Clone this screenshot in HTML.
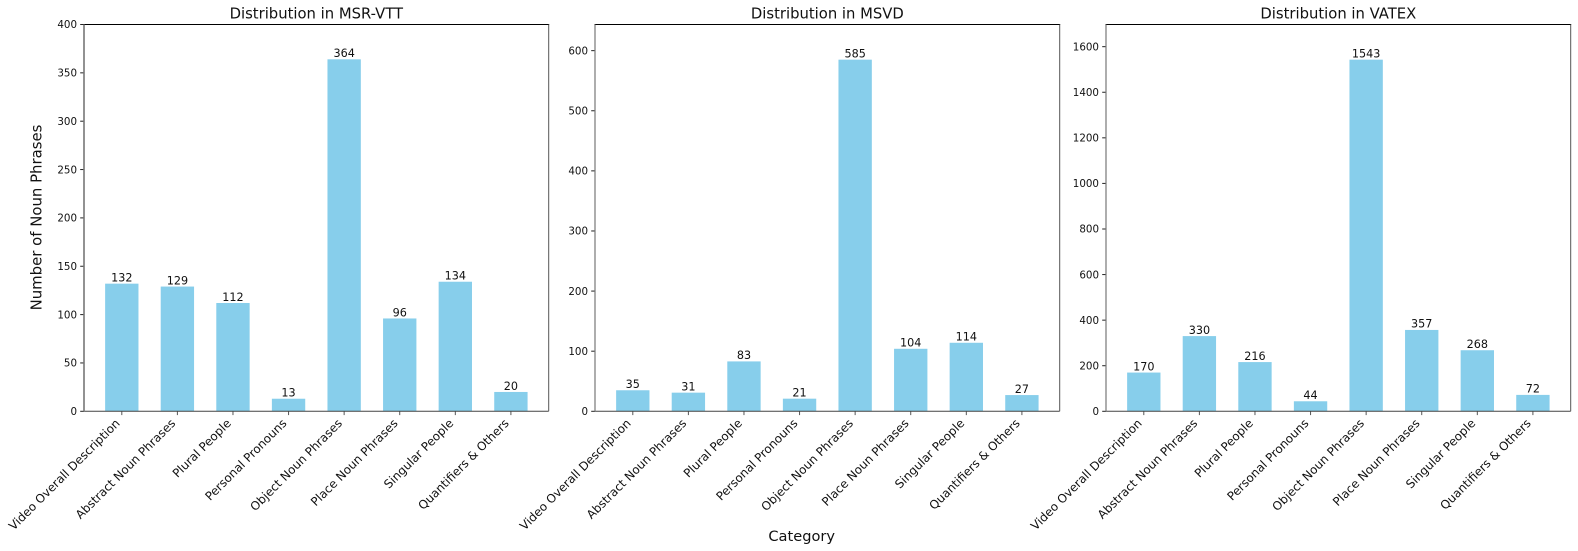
<!DOCTYPE html>
<html>
<head>
<meta charset="utf-8">
<title>Noun phrase distribution</title>
<style>
html,body{margin:0;padding:0;background:#fff;width:1578px;height:551px;overflow:hidden}
svg{display:block}
text{font-family:"DejaVu Sans","Liberation Sans",sans-serif;fill:#111}
</style>
</head>
<body>
<svg id="chart" xmlns="http://www.w3.org/2000/svg" width="1578" height="551" viewBox="0 0 1578 551">
  <text transform="translate(41.5,217.5) rotate(-90)" text-anchor="middle" font-size="14.9">Number of Noun Phrases</text>
  <text x="801.7" y="541" text-anchor="middle" font-size="14.6">Category</text>
</svg>
<script>
const categories = ["Video Overall Description","Abstract Noun Phrases","Plural People","Personal Pronouns","Object Noun Phrases","Place Noun Phrases","Singular People","Quantifiers & Others"];
const msrVttTitle = "Distribution in MSR-VTT";
const msvdTitle = "Distribution in MSVD";
const vatexTitle = "Distribution in VATEX";
const msrVttValues = [132,129,112,13,364,96,134,20];
const msvdValues = [35,31,83,21,585,104,114,27];
const vatexValues = [170,330,216,44,1543,357,268,72];
const msrVttTicks = [0,50,100,150,200,250,300,350,400];
const msvdTicks = [0,100,200,300,400,500,600];
const vatexTicks = [0,200,400,600,800,1000,1200,1400,1600];
const msrVttMax = 400;
const msvdMax = 643.5;
const vatexMax = 1697.3;

const NS = "http://www.w3.org/2000/svg";
const svg = document.getElementById("chart");
const TOP = 24.5, BOTTOM = 411.3;

function mk(tag, attrs, parent, text) {
  const el = document.createElementNS(NS, tag);
  for (const k in attrs) el.setAttribute(k, attrs[k]);
  if (text !== undefined) el.textContent = text;
  parent.appendChild(el);
  return el;
}

function drawPanel(id, title, values, ticks, yMax, left, right, leftSpineWidth) {
  const g = mk("g", {}, svg);
  
  
  const xMin = -0.68, xMax = values.length - 1 + 0.68;
  const xScale = v => left + (v - xMin) / (xMax - xMin) * (right - left);
  const yScale = v => BOTTOM - v / yMax * (BOTTOM - TOP);
  const barWidth = xScale(0.6) - xScale(0);

  values.forEach((v, i) => {
    const bar = mk("rect", {x: xScale(i) - barWidth / 2, y: yScale(v), width: barWidth, height: BOTTOM - yScale(v), fill: "#87ceeb"}, g);
    
    
    const label = mk("text", {x: xScale(i), y: yScale(v) - 2.2, "text-anchor": "middle", "font-size": "11.2"}, g, String(v));
    
    
  });

  ticks.forEach(t => {
    const y = yScale(t);
    const tick = mk("line", {x1: left - 3.8, x2: left, y1: y, y2: y, stroke: "#222", "stroke-width": 1}, g);
    
    
    const label = mk("text", {x: left - 7, y: y + 3.7, "text-anchor": "end", "font-size": "10.3"}, g, String(t));
    
    
  });

  categories.forEach((c, i) => {
    const x = xScale(i);
    const tick = mk("line", {x1: x, x2: x, y1: BOTTOM, y2: BOTTOM + 3.8, stroke: "#555", "stroke-width": 1}, g);
    
    
    const label = mk("text", {transform: "translate(" + (x - 1.2) + "," + (BOTTOM + 12.7) + ") rotate(-45)", "text-anchor": "end", "font-size": "11.9"}, g, c);
    
    
  });

  const spineTop = mk("line", {x1: left - 0.5, x2: right + 0.5, y1: TOP, y2: TOP, stroke: "#000", "stroke-width": 1}, g);
  
  
  const spineBottom = mk("line", {x1: left, x2: right, y1: BOTTOM, y2: BOTTOM, stroke: "#444", "stroke-width": 1}, g);
  
  
  const spineLeft = mk("line", {x1: left, x2: left, y1: TOP, y2: BOTTOM, stroke: "#777", "stroke-width": leftSpineWidth}, g);
  
  
  const spineRight = mk("line", {x1: right, x2: right, y1: TOP, y2: BOTTOM, stroke: "#555", "stroke-width": 1}, g);
  
  

  const heading = mk("text", {x: (left + right) / 2, y: 18.5, "text-anchor": "middle", "font-size": "14.8"}, g, title);
  
  
}

drawPanel("msr-vtt", msrVttTitle, msrVttValues, msrVttTicks, msrVttMax, 84, 548.7, 1.6);
drawPanel("msvd", msvdTitle, msvdValues, msvdTicks, msvdMax, 595, 1059.7, 1.2);
drawPanel("vatex", vatexTitle, vatexValues, vatexTicks, vatexMax, 1106, 1570.7, 1.2);
</script>
</body>
</html>
